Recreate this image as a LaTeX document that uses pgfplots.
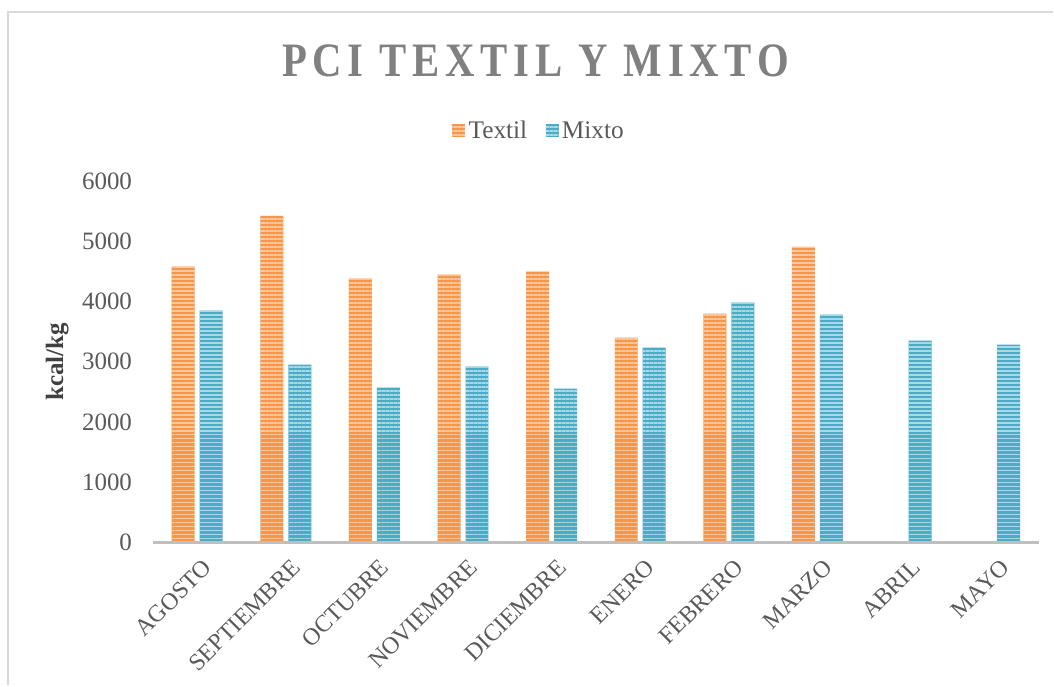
\documentclass[border=0pt]{standalone}
\usepackage{fontspec}
\setmainfont{Liberation Serif}
\newfontfamily\titlefont[FakeStretch=0.85,LetterSpace=12]{Liberation Serif}
\usepackage{pgfplots}
\pgfplotsset{compat=1.18}
\usetikzlibrary{patterns.meta}

\definecolor{textil}{HTML}{F79646}
\definecolor{textilL}{HTML}{FBC7A0}
\definecolor{mixto}{HTML}{4BACC6}
\definecolor{mixtoL}{HTML}{A9D8E6}
\definecolor{tickgray}{HTML}{595959}
\definecolor{titlegray}{HTML}{808080}
\definecolor{axisgray}{HTML}{BFBFBF}
\definecolor{framegray}{HTML}{D9D9D9}

\pgfplotsset{
  sq legend/.style={legend image code/.code={
    \draw[##1,draw=none] (0pt,-3.9pt) rectangle (7.8pt,3.9pt);}},
}

\begin{document}
\begin{tikzpicture}[x=0.6pt,y=0.6pt]
\path (0,0) rectangle (1054,686);
\draw[framegray, line width=1.2pt] (8,0) -- (8,674) -- (1054,674);
\node[text=titlegray, font=\titlefont\bfseries\fontsize{28.8}{32}\selectfont]
  at (536,625) {PCI TEXTIL Y MIXTO};
\begin{axis}[
  at={(91.8pt,85.8pt)}, anchor=south west,
  scale only axis, width=532.2pt, height=217.2pt,
  clip=false,
  ybar=3pt, bar width=13.8pt,
  xmin=-0.5, xmax=9.5,
  ymin=0, ymax=6000,
  xtick={0,...,9},
  xticklabels={AGOSTO,SEPTIEMBRE,OCTUBRE,NOVIEMBRE,DICIEMBRE,ENERO,FEBRERO,MARZO,ABRIL,MAYO},
  ytick={0,1000,...,6000},
  major tick length=0pt,
  axis line style={draw=none},
  /pgf/number format/assume math mode=true,
  /pgf/number format/1000 sep={},
  tick label style={font=\fontsize{14.4}{16}\selectfont, text=tickgray},
  yticklabel style={xshift=-9pt, font=\fontsize{15}{17}\selectfont},
  xticklabel style={rotate=45, anchor=north east, yshift=-5pt, xshift=-1pt},
  ylabel={kcal/kg},
  ylabel style={at={(axis description cs:-0.108,0.5)}, anchor=center,
    font=\bfseries\fontsize{15}{17}\selectfont, text=black!75},
  legend style={at={(axis description cs:0.4365,1.138)}, anchor=center,
    draw=none, fill=none, legend columns=2,
    font=\fontsize{15.2}{17}\selectfont, text=tickgray,
    /tikz/every even column/.append style={column sep=9pt}},
  legend cell align=left,
]
\addplot[fill=textil, draw=none,
  postaction={pattern={Lines[angle=0,distance=2.4pt,line width=1.1pt]}, pattern color=textilL},
  sq legend] coordinates {
  (0,4575) (1,5420) (2,4376) (3,4442) (4,4492) (5,3398) (6,3796) (7,4906)
};
\addplot[fill=mixto, draw=none,
  postaction={pattern={Lines[angle=0,distance=2.4pt,line width=1.1pt]}, pattern color=mixtoL},
  sq legend] coordinates {
  (0,3845) (1,2950) (2,2570) (3,2917) (4,2553) (5,3232) (6,3978) (7,3779) (8,3348) (9,3282)
};
\legend{Textil,Mixto}
\draw[axisgray, line width=1.8pt] (rel axis cs:0,0) -- (rel axis cs:1,0);
\end{axis}
\end{tikzpicture}
\end{document}
